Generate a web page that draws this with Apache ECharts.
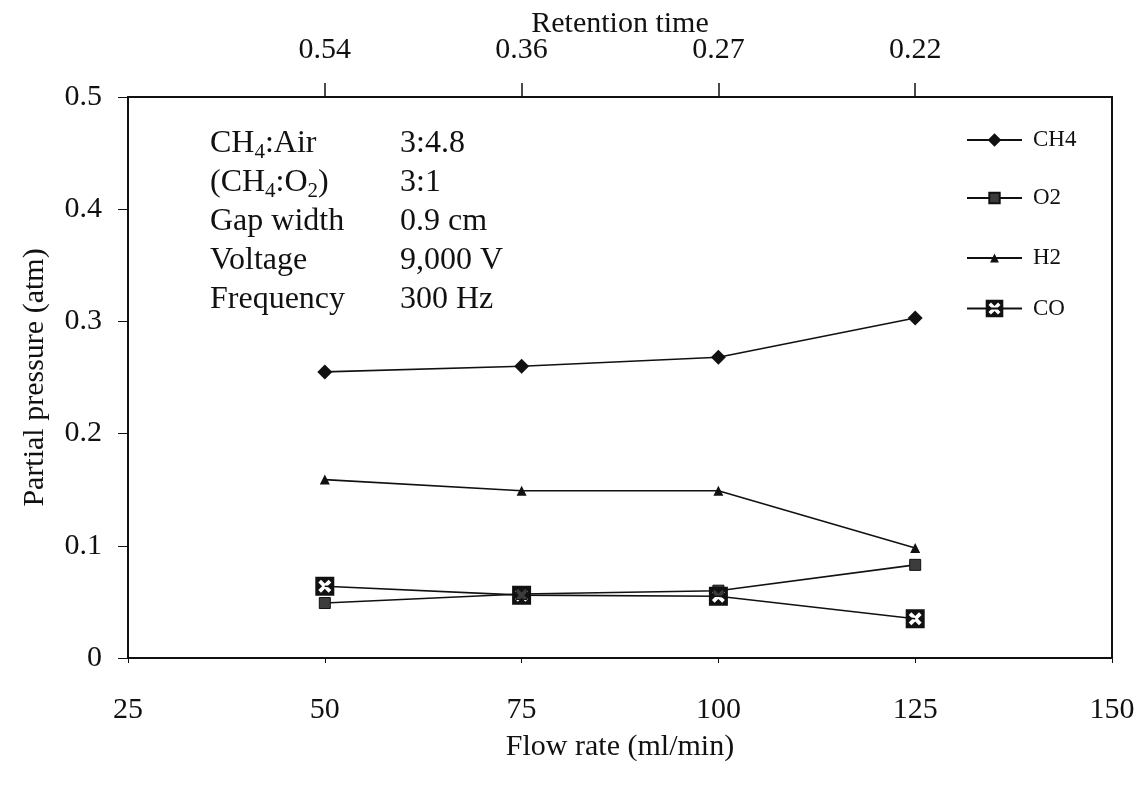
<!DOCTYPE html>
<html>
<head>
<meta charset="utf-8">
<script src="https://cdn.jsdelivr.net/npm/echarts@6/dist/echarts.min.js"></script>
<style>
html,body{margin:0;padding:0;background:#fff;}
#main{width:1136px;height:785px;}
</style>
</head>
<body>
<div id="main"></div>
<script>
// Data
const flowRate = [50, 75, 100, 125];
const ch4 = [0.255, 0.260, 0.268, 0.303];
const o2 = [0.049, 0.057, 0.060, 0.083];
const h2 = [0.159, 0.149, 0.149, 0.098];
const co = [0.064, 0.056, 0.055, 0.035];
const retentionLabels = ['', '0.54', '0.36', '0.27', '0.22', ''];
const seriesNames = ['CH4', 'O2', 'H2', 'CO'];

const FONT = 'Liberation Serif';
const INK = '#111';
const coSymbol = 'path://M0 0L100 0L100 100L0 100Z M16 30L36 50L16 70L30 84L50 64L70 84L84 70L64 50L84 30L70 16L50 36L30 16Z';

function pairs(arr) { return flowRate.map((x, i) => [x, arr[i]]); }

const chart = echarts.init(document.getElementById('main'), null, {renderer: 'canvas'});

function legendFor(name, centerY, itemH) {
  return {
    data: [name], left: 966, top: centerY - itemH / 2, padding: 0,
    itemWidth: 55, itemHeight: itemH, selectedMode: false,
    textStyle: {fontFamily: FONT, fontSize: 23, color: INK, padding: [0, 0, 0, 6]}
  };
}

const lineStyle = {color: INK, width: 1.6};

const option = {
  animation: false,
  backgroundColor: '#fff',
  grid: {left: 128, right: 24, top: 97, bottom: 127, show: true, borderColor: INK, borderWidth: 2,
         backgroundColor: 'transparent', outerBoundsMode: 'none', containLabel: false},
  legend: [
    legendFor('CH4', 137, 17),
    legendFor('O2', 193, 13),
    legendFor('H2', 252, 11),
    legendFor('CO', 308, 22)
  ],
  xAxis: [
    {
      type: 'value', min: 25, max: 150, interval: 25, position: 'bottom',
      axisLine: {show: true, lineStyle: {color: INK, width: 2}},
      axisTick: {show: true, length: 5, lineStyle: {color: INK, width: 1}},
      splitLine: {show: false},
      axisLabel: {fontFamily: FONT, fontSize: 30, color: INK, margin: 37},
      name: 'Flow rate (ml/min)', nameLocation: 'middle', nameGap: 74,
      nameTextStyle: {fontFamily: FONT, fontSize: 30, color: INK}
    },
    {
      type: 'category', data: retentionLabels, boundaryGap: false, position: 'top',
      axisLine: {show: true, lineStyle: {color: INK, width: 2}},
      axisTick: {show: true, length: 14, interval: (i) => i >= 1 && i <= 4, lineStyle: {color: INK, width: 1.5}},
      splitLine: {show: false},
      axisLabel: {fontFamily: FONT, fontSize: 30, color: INK, margin: 32, interval: (i) => i >= 1 && i <= 4},
      name: 'Retention time', nameLocation: 'middle', nameGap: 58, nameMoveOverlap: false,
      nameTextStyle: {fontFamily: FONT, fontSize: 30, color: INK}
    }
  ],
  yAxis: {
    type: 'value', min: 0, max: 0.5, interval: 0.1,
    axisLine: {show: true, lineStyle: {color: INK, width: 2}},
    axisTick: {show: true, length: 10, lineStyle: {color: INK, width: 1}},
    splitLine: {show: false},
    axisLabel: {fontFamily: FONT, fontSize: 30, color: INK, margin: 26},
    name: 'Partial pressure (atm)', nameLocation: 'middle', nameGap: 78, nameRotate: 90,
    nameTextStyle: {fontFamily: FONT, fontSize: 30, color: INK}
  },
  graphic: [
    {
      type: 'text', left: 210, top: 124,
      style: {
        text: '{n|CH}{s|4}{n|:Air}\n{n|(CH}{s|4}{n|:O}{s|2}{n|)}\n{n|Gap width}\n{n|Voltage}\n{n|Frequency}',
        rich: {
          n: {fontFamily: FONT, fontSize: 32, lineHeight: 39, fill: INK},
          s: {fontFamily: FONT, fontSize: 21, lineHeight: 39, fill: INK, padding: [18, 0, 0, 0]}
        }
      }
    },
    {
      type: 'text', left: 400, top: 124,
      style: {
        text: '3:4.8\n3:1\n0.9 cm\n9,000 V\n300 Hz',
        fontFamily: FONT, fontSize: 32, lineHeight: 39, fill: INK
      }
    }
  ],
  series: [
    {
      name: 'CH4', type: 'line', data: pairs(ch4), symbol: 'diamond', symbolSize: 15,
      itemStyle: {color: INK}, lineStyle: lineStyle
    },
    {
      name: 'O2', type: 'line', data: pairs(o2), symbol: 'rect', symbolSize: 11,
      itemStyle: {color: '#3c3c3c', borderColor: INK, borderWidth: 1}, lineStyle: lineStyle
    },
    {
      name: 'H2', type: 'line', data: pairs(h2), symbol: 'triangle', symbolSize: 10,
      itemStyle: {color: INK}, lineStyle: lineStyle
    },
    {
      name: 'CO', type: 'line', data: pairs(co), symbol: coSymbol, symbolSize: 19,
      itemStyle: {color: INK}, lineStyle: lineStyle
    }
  ]
};
chart.setOption(option);
</script>
</body>
</html>
